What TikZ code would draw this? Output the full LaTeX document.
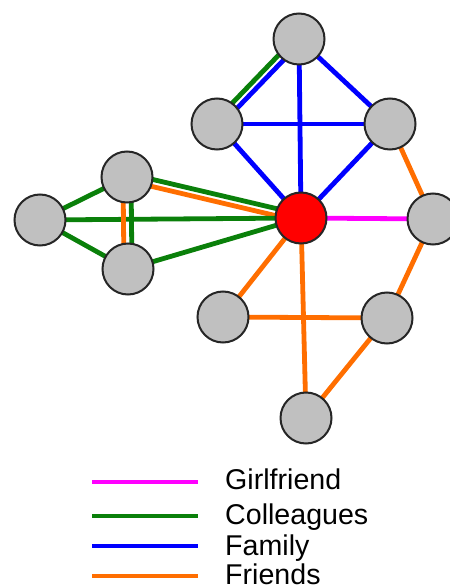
\documentclass[tikz,border=0pt]{standalone}
\usepackage{fontspec}
\setmainfont{Liberation Sans}
\usetikzlibrary{calc,backgrounds}
\definecolor{cgreen}{RGB}{10,128,10}
\definecolor{cblue}{RGB}{0,0,255}
\definecolor{cmag}{RGB}{255,0,255}
\definecolor{corange}{RGB}{255,110,0}
\definecolor{cgray}{RGB}{192,192,192}
\tikzset{
  person/.style={circle,draw=black!85,line width=2pt,fill=cgray,minimum size=51pt,inner sep=0pt},
  ego/.style={person,fill=red},
  rel/.style={line width=4.8pt},
  girl/.style={rel,cmag},
  coll/.style={rel,cgreen},
  fam/.style={rel,cblue},
  frnd/.style={rel,corange},
  legtext/.style={anchor=base west,inner sep=0pt,font=\fontsize{28.6}{34}\selectfont}
}
\begin{document}
\begin{tikzpicture}[x=1pt,y=1pt]
\useasboundingbox (0,0) rectangle (449,-585);
% nodes
\node[person] (T)  at (299,-39) {};
\node[person] (L)  at (217,-124) {};
\node[person] (R)  at (390,-124) {};
\node[ego]    (C)  at (301,-218) {};
\node[person] (FR) at (433,-219) {};
\node[person] (CT) at (127,-177) {};
\node[person] (CL) at (40,-220) {};
\node[person] (CB) at (128,-269) {};
\node[person] (FL) at (223,-317) {};
\node[person] (FM) at (387,-318) {};
\node[person] (FB) at (306,-418) {};
\begin{pgfonlayer}{background}
% family
\draw[fam] ($(L.center)!3.5pt!-90:(T.center)$) -- ($(T.center)!3.5pt!90:(L.center)$);
\draw[coll] ($(L.center)!3.5pt!90:(T.center)$) -- ($(T.center)!3.5pt!-90:(L.center)$);
\draw[fam] (T.center) -- (R.center);
\draw[fam] (T.center) -- (C.center);
\draw[fam] (L.center) -- (R.center);
\draw[fam] (L.center) -- (C.center);
\draw[fam] (R.center) -- (C.center);
% girlfriend
\draw[girl] (C.center) -- (FR.center);
% colleagues
\draw[coll] ($(CT.center)!3.5pt!90:(C.center)$) -- ($(C.center)!3.5pt!-90:(CT.center)$);
\draw[frnd] ($(CT.center)!3.5pt!-90:(C.center)$) -- ($(C.center)!3.5pt!90:(CT.center)$);
\draw[coll] (CL.center) -- (C.center);
\draw[coll] (CB.center) -- (C.center);
\draw[coll] (CL.center) -- (CT.center);
\draw[coll] (CL.center) -- (CB.center);
\draw[coll] ($(CT.center)!4pt!90:(CB.center)$) -- ($(CB.center)!4pt!-90:(CT.center)$);
\draw[frnd] ($(CT.center)!4pt!-90:(CB.center)$) -- ($(CB.center)!4pt!90:(CT.center)$);
% friends
\draw[frnd] (R.center) -- (FR.center);
\draw[frnd] (FR.center) -- (FM.center);
\draw[frnd] (C.center) -- (FL.center);
\draw[frnd] (C.center) -- (FB.center);
\draw[frnd] (FL.center) -- (FM.center);
\draw[frnd] (FM.center) -- (FB.center);
\end{pgfonlayer}
% legend
\coordinate (g1) at (92,-482); \coordinate (g2) at (198,-482);
\coordinate (c1) at (92,-516); \coordinate (c2) at (198,-516);
\coordinate (f1) at (92,-546); \coordinate (f2) at (198,-546);
\coordinate (o1) at (92,-576); \coordinate (o2) at (198,-576);
\draw[girl] (g1) -- (g2);
\draw[coll] (c1) -- (c2);
\draw[fam] (f1) -- (f2);
\draw[frnd] (o1) -- (o2);
\node[legtext] (tg) at (225,-489) {Girlfriend};
\node[legtext] (tc) at (225,-524) {Colleagues};
\node[legtext] (tf) at (225,-555) {Family};
\node[legtext] (to) at (225,-584) {Friends};
\end{tikzpicture}
\end{document}
